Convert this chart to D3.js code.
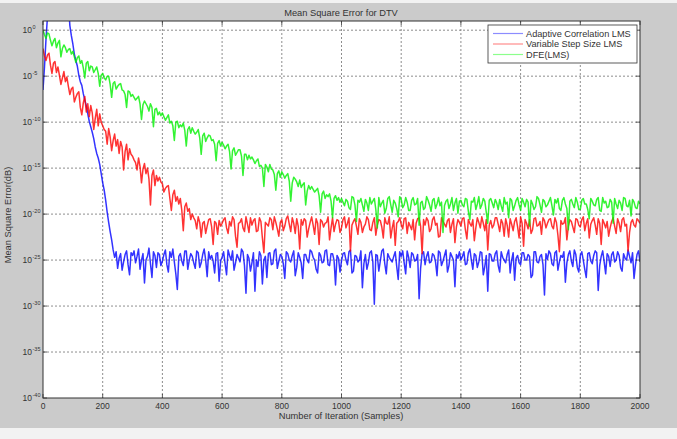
<!DOCTYPE html>
<html>
<head>
<meta charset="utf-8">
<script src="https://cdn.jsdelivr.net/npm/d3@7/dist/d3.min.js"></script>
<style>
body { margin: 0; background: #f2f2f2; }
text { font-family: "Liberation Sans", Arial, sans-serif; fill: #333; }
</style>
</head>
<body>
<div id="chart"></div>
<script>
var title = "Mean Square Error for DTV";
var xLabel = "Number of Iteration (Samples)";
var yLabel = "Mean Square Error(dB)";
var seriesNames = ["Adaptive Correlation LMS", "Variable Step Size LMS", "DFE(LMS)"];
var seriesColors = ["#0000ff", "#ff0000", "#00f000"];
var legendColors = ["#8c8cff", "#ff8c8c", "#8cff8c"];
var xTicks = [0, 200, 400, 600, 800, 1000, 1200, 1400, 1600, 1800, 2000];
var yTickExps = [0, -5, -10, -15, -20, -25, -30, -35, -40];
var sampleStep = 5;

// log10(MSE), at samples 0, 10, 20 ... 2000
var acLms = [
  -6.5, -1.0, 3, 3, 3, 3, 3, 3, 3, 0.5,
  -1.5, -3.3, -4.9, -6.0, -7.6, -9.1, -10.5, -11.8, -13.4, -14.6,
  -16.6, -18.5, -20.9, -22.8, -24.7, -25.9, -24.3, -25.2, -24.0, -26.6,
  -24.5, -25.3, -23.8, -25.0, -27.5, -24.6, -25.4, -24.1, -25.8, -24.4,
  -25.1, -23.9, -26.3, -24.7, -25.2, -28.2, -24.3, -25.6, -24.0, -25.0,
  -24.6, -25.9, -24.2, -25.3, -23.8, -26.8, -24.9, -25.1, -24.3, -27.3,
  -24.7, -25.4, -23.9, -25.0, -26.1, -24.4, -25.2, -24.1, -28.6, -24.8,
  -25.3, -28.4, -25.7, -24.5, -25.0, -26.9, -24.2, -25.4, -23.8, -25.1,
  -24.6, -27.0, -24.3, -25.2, -24.0, -25.8, -24.7, -27.0, -24.4, -25.3,
  -24.1, -25.0, -26.4, -24.5, -25.2, -23.9, -25.6, -24.3, -27.7, -24.8,
  -25.1, -24.2, -25.5, -23.9, -26.2, -24.6, -25.0, -28.0, -24.4, -25.3,
  -24.0, -29.8, -24.5, -25.1, -23.8, -26.5, -24.7, -25.2, -24.1, -27.1,
  -24.6, -25.3, -24.0, -25.8, -24.4, -25.0, -29.2, -24.3, -25.5, -24.1,
  -25.2, -24.5, -26.7, -24.2, -25.1, -23.9, -25.6, -24.6, -27.9, -24.8,
  -25.0, -24.1, -25.4, -23.8, -26.0, -24.5, -25.2, -24.2, -25.7, -28.4,
  -24.4, -25.1, -24.0, -26.3, -24.7, -25.3, -23.9, -25.0, -27.2, -24.5,
  -25.5, -24.2, -25.0, -24.6, -26.6, -24.1, -25.3, -24.4, -28.8, -24.9,
  -24.3, -25.6, -24.0, -25.2, -24.7, -27.4, -24.4, -25.1, -23.9, -25.8,
  -24.5, -25.0, -26.9, -24.2, -25.4, -24.0, -28.3, -24.6, -25.2, -24.3,
  -25.7, -24.1, -25.0, -24.5, -26.2, -24.8, -23.9, -25.3, -27.0, -24.4,
  -25.2
];
// same series at samples 5, 15, 25 ... 1995
var acLmsMid = [
  -4.0, 1.5, 3, 3, 3, 3, 3, 3, 3, -0.6,
  -2.6, -3.9, -5.6, -6.9, -8.2, -9.9, -11.1, -12.7, -13.9, -15.6,
  -17.4, -19.8, -21.9, -23.9, -24.1, -24.8, -26.1, -24.4, -25.5, -24.2,
  -24.0, -24.6, -26.0, -24.3, -25.0, -23.7, -26.9, -24.5, -24.2, -25.6,
  -24.4, -25.5, -24.1, -23.8, -26.5, -24.6, -25.1, -24.0, -26.0, -24.3,
  -25.3, -24.0, -25.8, -24.4, -25.0, -24.1, -24.5, -26.4, -24.2, -25.1,
  -24.1, -26.6, -24.5, -24.0, -25.3, -24.8, -23.8, -25.6, -24.4, -26.2,
  -24.2, -25.0, -24.1, -27.6, -24.6, -24.3, -25.5, -24.0, -25.9, -24.4,
  -25.4, -24.1, -25.0, -24.5, -26.7, -24.2, -25.3, -24.4, -25.0, -23.9,
  -24.7, -26.0, -24.2, -25.3, -24.0, -25.5, -24.3, -25.0, -24.5, -26.3,
  -24.3, -25.0, -24.1, -26.4, -24.5, -25.2, -24.0, -25.4, -26.0, -24.2,
  -25.2, -24.4, -26.2, -24.0, -25.4, -24.3, -25.0, -24.6, -25.7, -24.1,
  -24.0, -26.5, -24.7, -24.2, -25.1, -24.4, -25.9, -24.1, -24.6, -25.3,
  -24.3, -25.2, -24.0, -25.6, -24.5, -26.3, -24.2, -25.0, -24.4, -24.1,
  -24.6, -25.5, -24.2, -25.0, -24.3, -25.8, -24.1, -26.6, -24.5, -24.3,
  -25.1, -24.3, -25.6, -24.1, -25.0, -24.4, -26.4, -24.2, -24.8, -25.3,
  -24.2, -25.0, -24.4, -26.9, -24.1, -25.2, -24.6, -25.5, -24.3, -24.0,
  -25.4, -24.2, -26.1, -24.5, -24.1, -25.3, -24.0, -25.7, -24.4, -26.3,
  -24.1, -26.0, -24.3, -25.1, -24.5, -24.2, -25.6, -24.0, -26.5, -24.6,
  -24.4, -25.2, -24.1, -25.8, -24.3, -25.0, -24.6, -24.2, -25.5, -24.0
];

var vssLms = [
  -2.0, -3.3, -2.5, -4.7, -3.4, -4.0, -5.9, -4.5, -5.1, -7.0,
  -6.2, -7.3, -6.7, -9.2, -7.2, -8.0, -8.2, -10.8, -8.6, -9.1,
  -10.4, -11.0, -10.7, -13.1, -11.3, -11.9, -12.1, -15.2, -12.4, -12.9,
  -13.7, -14.4, -13.9, -16.6, -14.5, -15.0, -19.0, -15.2, -15.8, -16.0,
  -16.7, -17.2, -16.9, -19.6, -17.4, -18.1, -18.3, -21.8, -18.8, -19.4,
  -20.0, -20.7, -20.3, -22.5, -20.8, -21.3, -20.5, -23.3, -21.0, -20.7,
  -21.0, -20.4, -22.1, -21.3, -20.6, -23.6, -20.9, -21.5, -20.3, -22.0,
  -21.2, -20.5, -21.8, -20.8, -24.2, -21.1, -20.4, -21.7, -20.9, -22.4,
  -20.6, -21.3, -20.2, -21.9, -21.0, -20.5, -23.8, -21.2, -20.7, -21.6,
  -20.3, -22.2, -21.0, -20.6, -21.4, -20.9, -22.8, -20.4, -21.1, -20.7,
  -21.5, -20.3, -21.0, -24.0, -20.8, -21.3, -20.5, -22.0, -21.1, -20.6,
  -21.8, -20.4, -21.2, -20.7, -22.6, -21.0, -20.3, -21.5, -23.4, -20.8,
  -21.1, -20.5, -22.1, -21.3, -20.6, -21.0, -20.4, -24.3, -21.2, -20.7,
  -21.6, -20.3, -21.0, -22.4, -20.8, -21.4, -20.5, -21.1, -23.1, -20.6,
  -21.3, -20.4, -22.7, -21.0, -20.6, -21.5, -20.9, -20.3, -21.8, -23.9,
  -20.7, -21.2, -20.4, -21.9, -21.0, -20.5, -22.5, -21.1, -20.8, -21.4,
  -20.3, -23.5, -21.0, -20.6, -21.7, -20.4, -21.2, -22.2, -20.7, -21.0,
  -20.5, -21.6, -20.9, -24.1, -21.1, -20.4, -21.3, -20.8, -22.0, -20.6,
  -21.4, -20.3, -21.0, -22.6, -20.7, -21.2, -20.5, -23.3, -21.0, -20.8,
  -21.5, -20.4, -22.1, -21.0, -20.6, -21.3, -24.0, -20.9, -21.2, -20.5,
  -21.0
];
var vssLmsMid = [
  -2.8, -2.7, -3.8, -3.6, -4.6, -4.9, -5.2, -5.6, -6.1, -6.4,
  -7.8, -6.9, -8.4, -7.9, -8.9, -9.4, -9.0, -9.6, -10.4, -10.0,
  -10.8, -12.4, -11.6, -12.0, -12.6, -13.4, -12.7, -13.2, -14.1, -13.5,
  -14.1, -15.2, -14.8, -15.1, -15.6, -16.2, -15.8, -16.9, -16.4, -16.5,
  -17.6, -17.0, -18.3, -17.9, -18.6, -18.9, -19.6, -19.2, -19.7, -20.6,
  -20.4, -21.6, -20.9, -21.0, -22.1, -20.6, -21.4, -20.8, -22.2, -21.3,
  -20.6, -21.5, -20.8, -20.3, -22.4, -21.0, -20.5, -21.9, -21.1, -20.4,
  -20.7, -21.9, -20.4, -22.6, -20.9, -21.3, -20.6, -20.3, -21.6, -20.9,
  -21.8, -20.5, -21.1, -20.4, -22.1, -21.3, -20.6, -20.5, -22.5, -20.9,
  -21.2, -20.5, -23.3, -20.8, -21.0, -20.3, -21.5, -21.9, -20.6, -22.0,
  -20.6, -21.5, -20.4, -21.2, -20.5, -22.2, -20.9, -21.4, -20.3, -21.7,
  -20.9, -22.3, -20.6, -21.4, -20.4, -21.1, -22.6, -20.7, -21.0, -20.4,
  -21.6, -20.4, -20.9, -21.7, -22.8, -20.5, -21.3, -20.6, -20.4, -21.9,
  -20.6, -21.2, -22.5, -20.4, -21.1, -20.7, -22.0, -20.5, -21.4, -20.9,
  -20.5, -21.7, -20.6, -21.3, -22.9, -20.4, -21.5, -21.0, -20.6, -21.2,
  -21.5, -20.4, -21.1, -20.6, -22.4, -21.2, -20.5, -21.8, -20.4, -22.6,
  -21.0, -20.6, -21.6, -22.1, -20.5, -21.3, -20.8, -20.4, -21.5, -20.6,
  -21.3, -20.4, -22.3, -20.7, -21.0, -22.8, -20.6, -21.4, -20.5, -21.2,
  -20.6, -21.8, -20.5, -21.1, -20.4, -22.2, -21.0, -20.6, -21.5, -22.4,
  -20.8, -21.3, -20.5, -21.9, -20.4, -21.1, -22.0, -20.6, -21.4, -20.7
];

var dfeLms = [
  0.0, -0.9, -0.4, -1.7, -0.9, -1.4, -2.9, -1.6, -2.4, -2.0,
  -2.3, -3.5, -2.8, -3.3, -5.2, -3.4, -3.9, -4.6, -4.0, -6.1,
  -4.7, -5.4, -5.0, -7.3, -5.6, -6.1, -5.8, -6.6, -8.4, -6.7,
  -7.0, -7.6, -7.2, -9.7, -7.7, -8.3, -8.0, -10.5, -8.5, -8.9,
  -9.0, -9.8, -9.2, -9.9, -12.0, -9.9, -10.3, -10.1, -12.6, -10.5,
  -10.6, -11.3, -10.8, -13.5, -11.2, -11.7, -11.5, -11.9, -14.2, -12.0,
  -12.2, -12.9, -12.4, -15.1, -12.8, -13.3, -13.0, -15.8, -13.5, -13.6,
  -13.8, -14.5, -14.0, -14.7, -17.0, -14.9, -14.6, -15.2, -17.4, -15.3,
  -15.4, -16.1, -15.6, -18.6, -16.0, -16.5, -16.3, -16.8, -19.0, -16.9,
  -17.0, -17.6, -17.2, -19.8, -17.5, -17.9, -17.8, -20.4, -18.0, -18.2,
  -18.3, -19.1, -18.6, -19.5, -18.2, -20.8, -18.7, -19.0, -18.4, -19.6,
  -18.9, -18.3, -21.5, -19.2, -18.5, -19.4, -18.1, -19.8, -18.8, -20.3,
  -18.4, -19.0, -18.7, -19.6, -18.2, -18.9, -21.2, -18.6, -19.3, -18.5,
  -19.7, -18.3, -18.9, -19.1, -22.0, -18.6, -19.4, -18.2, -18.8, -19.9,
  -18.5, -19.2, -18.4, -20.6, -18.7, -19.5, -18.1, -19.0, -18.6, -21.0,
  -18.3, -19.3, -18.8, -18.4, -19.7, -18.9, -20.4, -18.5, -19.1, -18.2,
  -19.6, -18.7, -18.4, -21.3, -18.9, -19.2, -18.3, -19.8, -18.6, -19.0,
  -18.2, -20.1, -18.8, -19.4, -18.5, -18.9, -21.7, -18.4, -19.3, -18.7,
  -19.5, -18.3, -18.9, -20.5, -18.6, -19.1, -18.2, -19.7, -18.8, -19.3,
  -18.4, -21.0, -18.9, -18.5, -19.6, -18.3, -19.2, -20.2, -18.7, -19.4,
  -18.9
];
var dfeLmsMid = [
  -0.5, -0.3, -1.1, -1.2, -1.9, -1.1, -2.0, -1.9, -2.1, -2.6,
  -2.9, -3.0, -3.6, -4.1, -3.6, -4.4, -4.0, -4.3, -4.7, -4.9,
  -5.2, -5.0, -5.9, -5.8, -6.4, -5.9, -6.5, -7.0, -6.6, -7.2,
  -7.3, -7.4, -8.0, -8.1, -8.0, -8.8, -8.4, -8.6, -9.2, -9.3,
  -9.4, -9.5, -10.1, -10.4, -10.0, -10.6, -10.5, -10.9, -10.8, -11.2,
  -11.0, -11.1, -11.7, -11.5, -12.1, -11.4, -12.0, -12.4, -12.3, -12.6,
  -12.5, -12.6, -13.2, -13.1, -13.6, -13.0, -13.7, -13.5, -14.1, -14.0,
  -14.1, -14.2, -14.8, -15.0, -14.6, -15.4, -15.1, -15.7, -15.6, -16.0,
  -15.7, -15.8, -16.4, -16.6, -16.2, -17.0, -17.1, -16.6, -17.5, -17.3,
  -17.3, -17.4, -18.0, -17.8, -18.3, -18.1, -18.6, -18.3, -18.5, -18.7,
  -18.7, -18.4, -19.3, -18.1, -19.0, -18.5, -18.3, -19.7, -18.8, -18.2,
  -18.6, -19.5, -18.2, -18.8, -19.9, -18.3, -19.0, -18.5, -19.4, -18.1,
  -19.3, -18.2, -19.6, -18.5, -19.0, -18.3, -18.8, -19.5, -18.1, -19.0,
  -18.5, -19.4, -18.2, -18.7, -19.1, -18.4, -18.9, -19.6, -18.3, -18.6,
  -19.0, -18.3, -19.7, -18.6, -18.2, -18.9, -19.4, -18.3, -19.8, -18.5,
  -18.8, -18.4, -19.5, -19.1, -18.2, -18.7, -18.3, -19.6, -18.5, -19.0,
  -18.3, -19.2, -18.7, -18.5, -19.5, -18.1, -19.0, -18.4, -19.2, -18.6,
  -19.1, -18.4, -18.3, -19.6, -18.2, -19.4, -18.6, -18.9, -18.2, -19.5,
  -18.5, -18.9, -19.5, -18.3, -19.0, -18.4, -19.6, -18.2, -18.6, -19.2,
  -18.7, -18.3, -19.4, -18.8, -18.2, -19.1, -18.5, -18.4, -19.3, -18.6
];

// interleave the 10-sample values with the half-step ones
function weave(main, mid) {
    var out = [];
    main.forEach(function(v, i) {
        out.push(v);
        if (i < mid.length) out.push(mid[i]);
    });
    return out;
}

var allSeries = [weave(acLms, acLmsMid), weave(vssLms, vssLmsMid), weave(dfeLms, dfeLmsMid)];

var W = 677, H = 439,
    plotL = 43, plotR = 640, plotT = 21, plotB = 398;

var svg = d3.select("#chart")
            .append("svg")
            .attr("width", W)
            .attr("height", H);

// figure background
svg.append("rect")
   .attr("x", 0).attr("y", 3)
   .attr("width", W).attr("height", 425)
   .attr("fill", "#cbcbcb");

var x = d3.scaleLinear().domain([0, 2000]).range([plotL, plotR]);
var y = d3.scaleLog().domain([1e-40, 1e1]).range([plotB, plotT]);

svg.append("rect")
   .attr("x", plotL).attr("y", plotT)
   .attr("width", plotR - plotL).attr("height", plotB - plotT)
   .attr("fill", "#fff");

svg.append("clipPath").attr("id", "plotArea")
   .append("rect")
   .attr("x", plotL).attr("y", plotT)
   .attr("width", plotR - plotL).attr("height", plotB - plotT);

// grid
var grid = svg.append("g")
              .attr("stroke", "#707070")
              .attr("stroke-width", 0.8)
              .attr("stroke-dasharray", "2,2");

grid.selectAll("line.gx")
    .data(xTicks.slice(1, -1))
    .enter().append("line")
    .attr("x1", function(d) { return x(d); })
    .attr("x2", function(d) { return x(d); })
    .attr("y1", plotT).attr("y2", plotB);

grid.selectAll("line.gy")
    .data(yTickExps.slice(0, -1))
    .enter().append("line")
    .attr("y1", function(d) { return y(Math.pow(10, d)); })
    .attr("y2", function(d) { return y(Math.pow(10, d)); })
    .attr("x1", plotL).attr("x2", plotR);

// data lines
var line = d3.line()
             .x(function(d, i) { return x(i * sampleStep); })
             .y(function(d) { return y(Math.pow(10, d)); });

svg.append("g")
   .attr("clip-path", "url(#plotArea)")
   .selectAll("path")
   .data(allSeries)
   .enter().append("path")
   .attr("d", line)
   .attr("fill", "none")
   .attr("stroke", function(d, i) { return seriesColors[i]; })
   .attr("stroke-width", 1.5)
   .attr("stroke-opacity", 0.8)
   .attr("stroke-linejoin", "round");

// axes box and ticks
svg.append("rect")
   .attr("x", plotL).attr("y", plotT)
   .attr("width", plotR - plotL).attr("height", plotB - plotT)
   .attr("fill", "none")
   .attr("stroke", "#333")
   .attr("stroke-width", 1);

var ticks = svg.append("g").attr("stroke", "#333").attr("stroke-width", 0.8);

xTicks.forEach(function(t) {
    ticks.append("line")
         .attr("x1", x(t)).attr("x2", x(t))
         .attr("y1", plotB).attr("y2", plotB - 4);
    ticks.append("line")
         .attr("x1", x(t)).attr("x2", x(t))
         .attr("y1", plotT).attr("y2", plotT + 4);
});

yTickExps.forEach(function(t) {
    ticks.append("line")
         .attr("y1", y(Math.pow(10, t))).attr("y2", y(Math.pow(10, t)))
         .attr("x1", plotL).attr("x2", plotL + 4);
    ticks.append("line")
         .attr("y1", y(Math.pow(10, t))).attr("y2", y(Math.pow(10, t)))
         .attr("x1", plotR).attr("x2", plotR - 4);
});

// tick labels
svg.selectAll("text.xt")
   .data(xTicks)
   .enter().append("text")
   .attr("x", function(d) { return x(d); })
   .attr("y", 409)
   .attr("text-anchor", "middle")
   .attr("font-size", 8.5)
   .text(function(d) { return d; });

var yt = svg.selectAll("g.yt")
            .data(yTickExps)
            .enter().append("g")
            .attr("transform", function(d) { return "translate(0," + y(Math.pow(10, d)) + ")"; });

yt.append("text")
  .attr("x", 32)
  .attr("y", 3)
  .attr("text-anchor", "end")
  .attr("font-size", 8.5)
  .text("10");

yt.append("text")
  .attr("x", 32.5)
  .attr("y", -1.5)
  .attr("font-size", 5.5)
  .text(function(d) { return d; });

// titles
svg.append("text")
   .attr("x", 341).attr("y", 16)
   .attr("text-anchor", "middle")
   .attr("font-size", 9.3)
   .text(title);

svg.append("text")
   .attr("x", 341).attr("y", 419)
   .attr("text-anchor", "middle")
   .attr("font-size", 9.3)
   .text(xLabel);

svg.append("text")
   .attr("transform", "translate(11,215) rotate(-90)")
   .attr("text-anchor", "middle")
   .attr("font-size", 9.3)
   .text(yLabel);

// legend
var legend = svg.append("g");

legend.append("rect")
      .attr("x", 488).attr("y", 25)
      .attr("width", 149).attr("height", 38)
      .attr("fill", "#fff")
      .attr("stroke", "#333")
      .attr("stroke-width", 0.8);

seriesNames.forEach(function(name, i) {
    var ly = 33.5 + i * 10.5;
    legend.append("line")
          .attr("x1", 493).attr("x2", 523)
          .attr("y1", ly).attr("y2", ly)
          .attr("stroke", legendColors[i])
          .attr("stroke-width", 1.2);
    legend.append("text")
          .attr("x", 526).attr("y", ly + 3.2)
          .attr("font-size", 9.2)
          .text(name);
});
</script>
</body>
</html>
